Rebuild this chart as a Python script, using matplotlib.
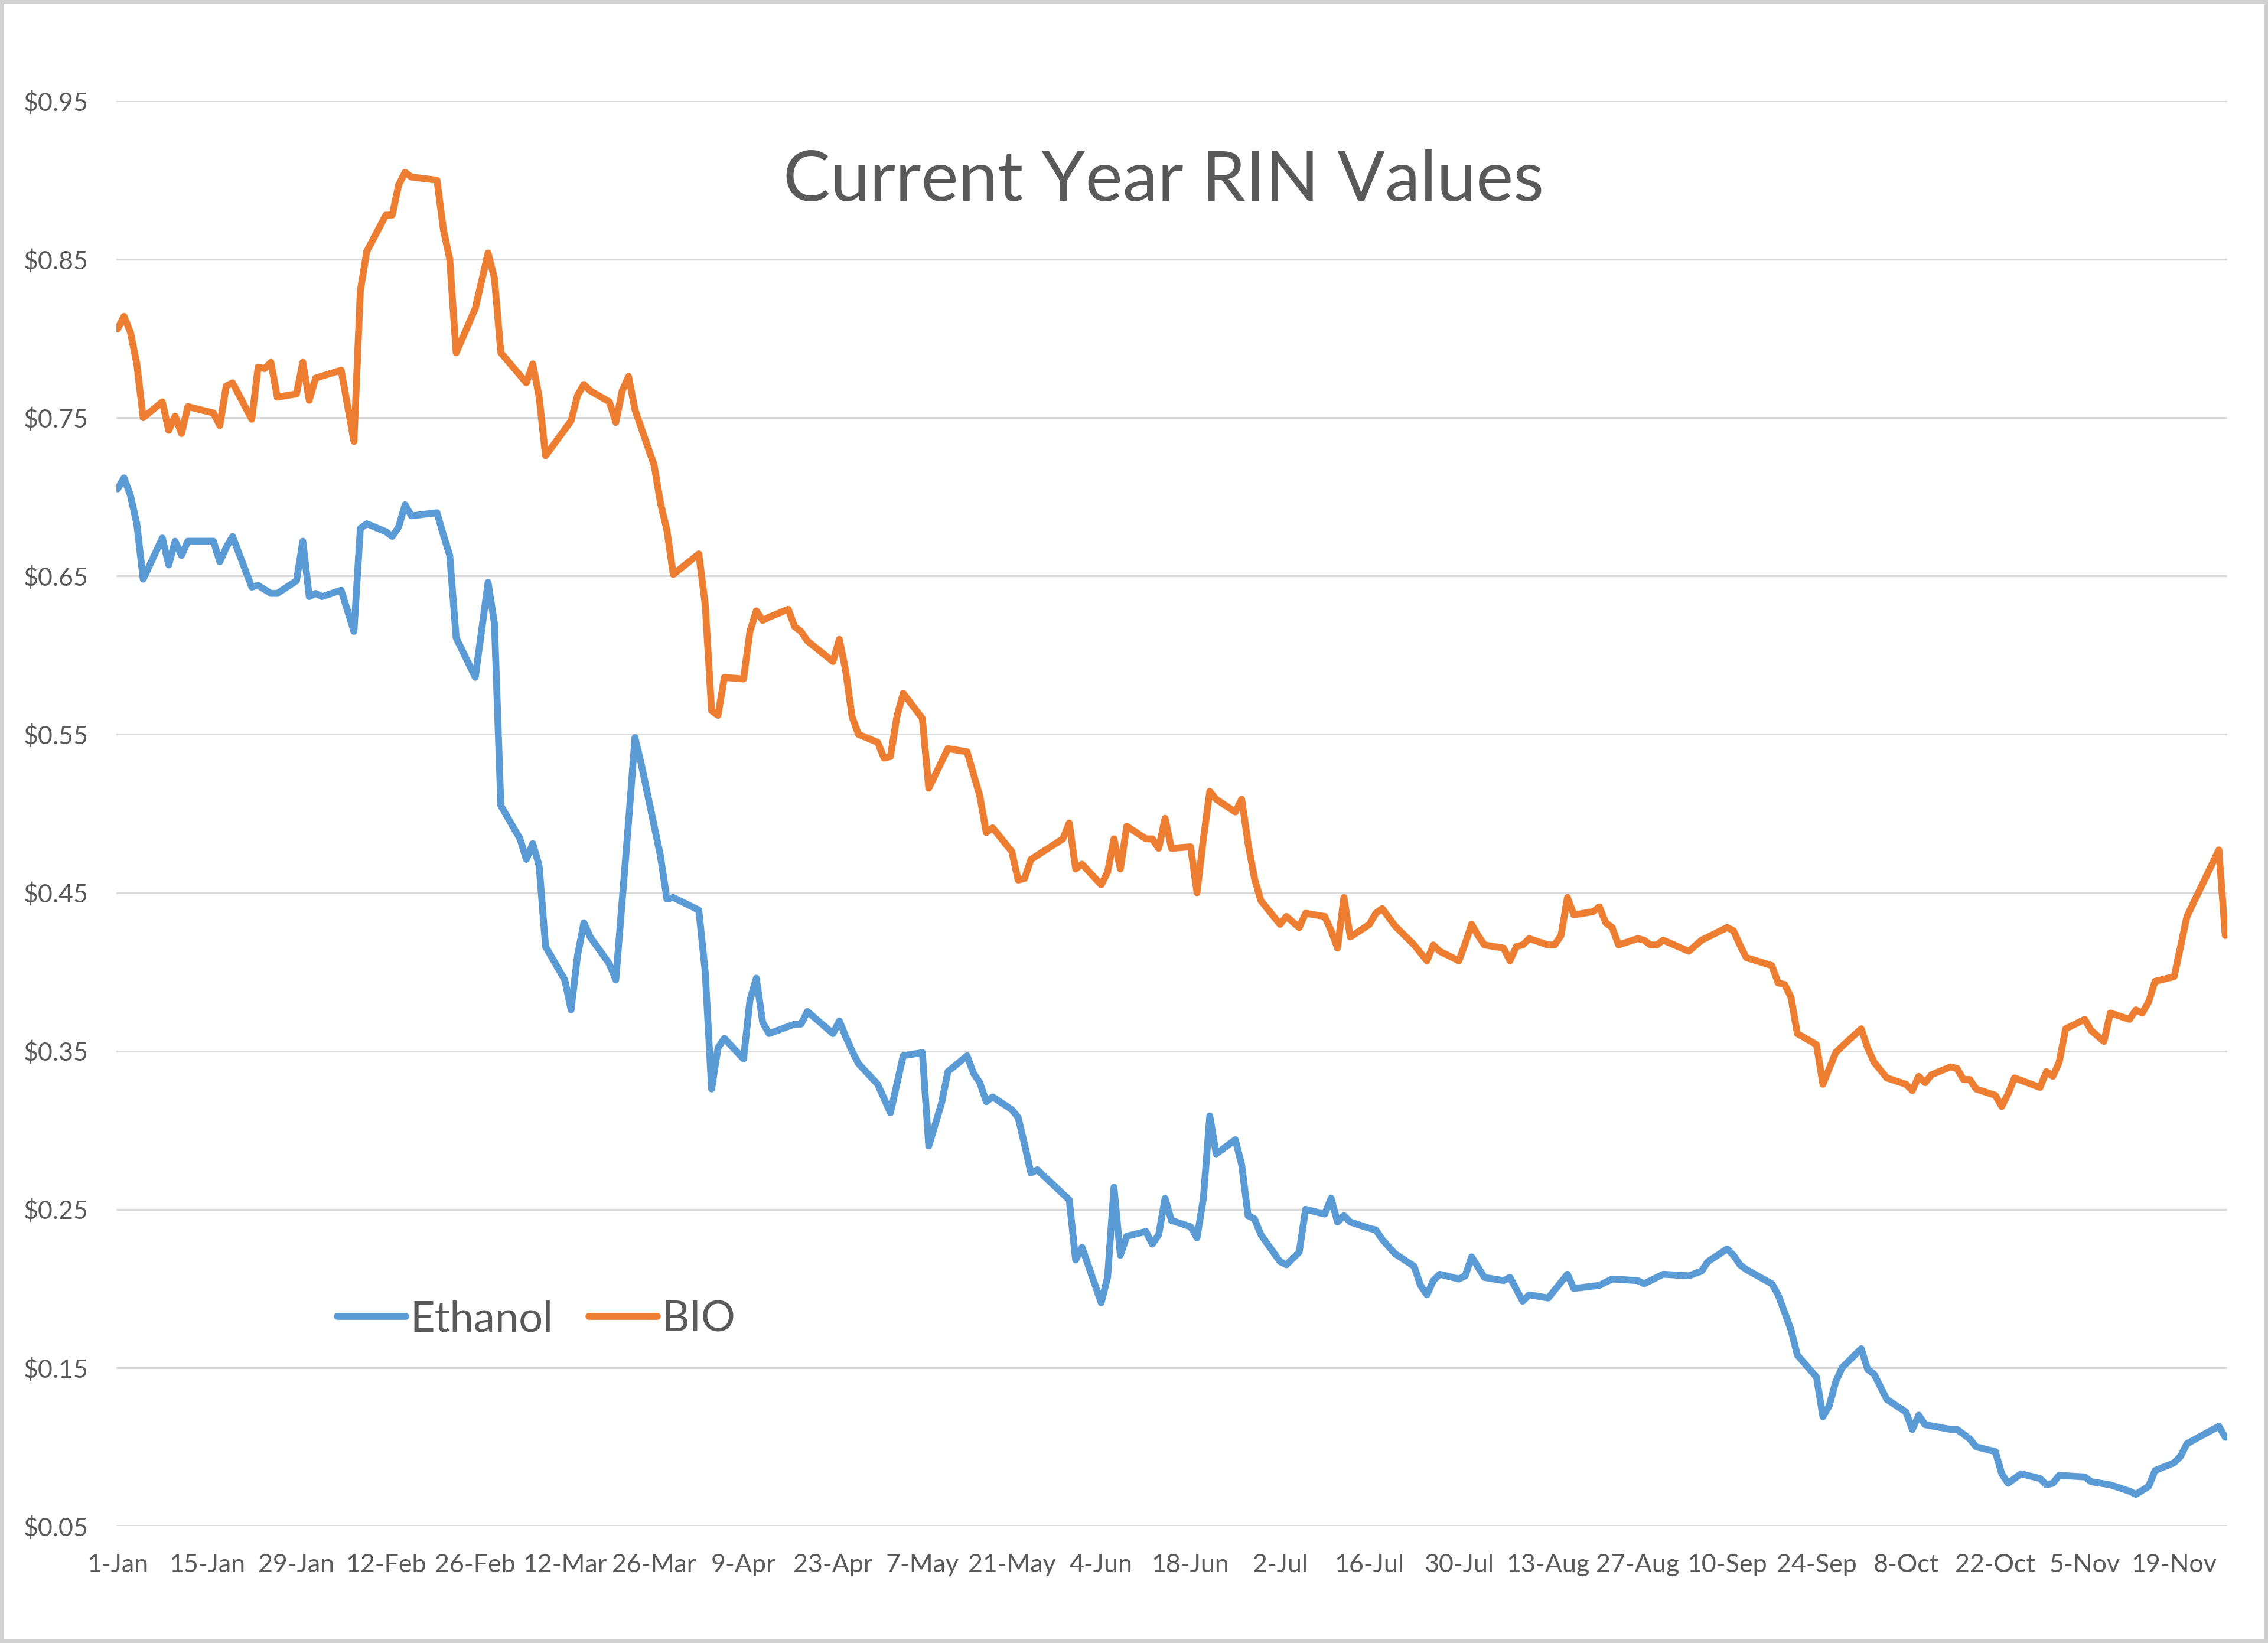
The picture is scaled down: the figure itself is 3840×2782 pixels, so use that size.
import matplotlib
matplotlib.use("Agg")
import matplotlib.pyplot as plt
import matplotlib.dates as mdates
from matplotlib.patches import Rectangle
import numpy as np
import datetime as dt

# ---------------- data (days after 1-Jan-2018, value in $) ----------------
base_date = "2018-01-01"

ethanol_days = [0, 1, 2, 3, 4, 7, 8, 9, 10, 11, 15, 16, 17, 18, 21, 22, 24, 25, 28, 29,
                30, 31, 32, 35, 37, 38, 39, 42, 43, 44, 45, 46, 50, 51, 52, 53, 56, 58, 59, 60,
                63, 64, 65, 66, 67, 70, 71, 72, 73, 74, 77, 78, 80, 81, 82, 85, 86, 87, 91, 92,
                93, 94, 95, 98, 99, 100, 101, 102, 106, 107, 108, 112, 113, 114, 115, 116, 119, 121, 123, 126,
                127, 129, 130, 133, 134, 135, 136, 137, 140, 141, 142, 143, 144, 149, 150, 151, 154, 155, 156, 157,
                158, 161, 162, 163, 164, 165, 168, 169, 170, 171, 172, 175, 176, 177, 178, 179, 182, 183, 185, 186,
                189, 190, 191, 192, 193, 196, 197, 198, 200, 203, 204, 205, 206, 207, 210, 211, 212, 214, 217, 218,
                220, 221, 224, 225, 227, 228, 232, 234, 238, 239, 242, 246, 248, 249, 252, 253, 254, 255, 259, 260,
                262, 263, 266, 267, 268, 269, 270, 273, 274, 275, 277, 280, 281, 282, 283, 287, 288, 290, 291, 294,
                295, 296, 298, 301, 302, 303, 304, 308, 309, 312, 315, 316, 318, 319, 322, 323, 324, 329, 330]
ethanol_vals = [0.705, 0.712, 0.701, 0.683, 0.648, 0.674, 0.657, 0.672, 0.663, 0.672, 0.672, 0.659, 0.668, 0.675, 0.643, 0.644, 0.639, 0.639, 0.647, 0.672,
                0.637, 0.639, 0.637, 0.641, 0.615, 0.680, 0.683, 0.678, 0.675, 0.681, 0.695, 0.688, 0.690, 0.676, 0.663, 0.611, 0.586, 0.646, 0.620, 0.505,
                0.484, 0.471, 0.481, 0.467, 0.416, 0.395, 0.376, 0.410, 0.431, 0.422, 0.405, 0.395, 0.495, 0.548, 0.531, 0.473, 0.446, 0.447, 0.439, 0.400,
                0.326, 0.352, 0.358, 0.345, 0.382, 0.396, 0.368, 0.361, 0.367, 0.367, 0.375, 0.361, 0.369, 0.359, 0.350, 0.342, 0.329, 0.311, 0.347, 0.349,
                0.290, 0.317, 0.337, 0.347, 0.336, 0.330, 0.318, 0.321, 0.313, 0.308, 0.291, 0.273, 0.275, 0.256, 0.218, 0.226, 0.191, 0.207, 0.264, 0.221,
                0.233, 0.236, 0.228, 0.234, 0.257, 0.243, 0.239, 0.232, 0.257, 0.309, 0.285, 0.294, 0.278, 0.246, 0.244, 0.234, 0.217, 0.215, 0.223, 0.250,
                0.247, 0.257, 0.242, 0.246, 0.242, 0.238, 0.237, 0.231, 0.222, 0.214, 0.202, 0.196, 0.205, 0.209, 0.206, 0.208, 0.220, 0.207, 0.205, 0.207,
                0.192, 0.196, 0.194, 0.199, 0.209, 0.200, 0.202, 0.206, 0.205, 0.203, 0.209, 0.208, 0.211, 0.217, 0.225, 0.221, 0.215, 0.212, 0.203, 0.196,
                0.174, 0.158, 0.144, 0.119, 0.126, 0.141, 0.150, 0.162, 0.149, 0.146, 0.130, 0.122, 0.111, 0.120, 0.114, 0.111, 0.111, 0.105, 0.100, 0.097,
                0.083, 0.077, 0.083, 0.080, 0.076, 0.077, 0.082, 0.081, 0.078, 0.076, 0.072, 0.070, 0.075, 0.085, 0.090, 0.094, 0.102, 0.113, 0.106]

bio_days = [0, 1, 2, 3, 4, 7, 8, 9, 10, 11, 15, 16, 17, 18, 21, 22, 23, 24, 25, 28,
            29, 30, 31, 35, 37, 38, 39, 42, 43, 44, 45, 46, 50, 51, 52, 53, 56, 58, 59, 60,
            64, 65, 66, 67, 71, 72, 73, 74, 77, 78, 79, 80, 81, 84, 85, 86, 87, 91, 92, 93,
            94, 95, 98, 99, 100, 101, 102, 105, 106, 107, 108, 112, 113, 114, 115, 116, 119, 120, 121, 122,
            123, 126, 127, 130, 133, 135, 136, 137, 140, 141, 142, 143, 148, 149, 150, 151, 154, 155, 156, 157,
            158, 161, 162, 163, 164, 165, 168, 169, 170, 171, 172, 175, 176, 177, 178, 179, 182, 183, 185, 186,
            189, 190, 191, 192, 193, 196, 197, 198, 200, 203, 205, 206, 207, 210, 211, 212, 213, 214, 217, 218,
            219, 220, 221, 224, 225, 226, 227, 228, 231, 232, 233, 234, 235, 238, 239, 240, 241, 242, 246, 248,
            252, 253, 254, 255, 259, 260, 261, 262, 263, 266, 267, 269, 270, 273, 274, 275, 277, 280, 281, 282,
            283, 284, 287, 288, 289, 290, 291, 294, 295, 296, 297, 301, 302, 303, 304, 305, 308, 309, 311, 312,
            315, 316, 317, 318, 319, 322, 324, 329, 330]
bio_vals = [0.806, 0.814, 0.804, 0.784, 0.750, 0.760, 0.742, 0.751, 0.740, 0.757, 0.753, 0.745, 0.770, 0.772, 0.749, 0.782, 0.781, 0.785, 0.763, 0.765,
            0.785, 0.761, 0.775, 0.780, 0.735, 0.830, 0.855, 0.878, 0.878, 0.897, 0.905, 0.902, 0.900, 0.869, 0.850, 0.791, 0.819, 0.854, 0.838, 0.791,
            0.772, 0.784, 0.763, 0.726, 0.748, 0.764, 0.771, 0.767, 0.760, 0.747, 0.767, 0.776, 0.755, 0.720, 0.696, 0.679, 0.651, 0.664, 0.632, 0.565,
            0.562, 0.586, 0.585, 0.615, 0.628, 0.622, 0.624, 0.629, 0.618, 0.615, 0.609, 0.596, 0.610, 0.590, 0.561, 0.550, 0.545, 0.535, 0.536, 0.561,
            0.576, 0.560, 0.516, 0.541, 0.539, 0.511, 0.488, 0.491, 0.476, 0.458, 0.459, 0.471, 0.484, 0.494, 0.465, 0.468, 0.455, 0.463, 0.484, 0.465,
            0.492, 0.484, 0.484, 0.478, 0.497, 0.478, 0.479, 0.450, 0.484, 0.514, 0.509, 0.501, 0.509, 0.481, 0.459, 0.445, 0.430, 0.435, 0.428, 0.437,
            0.435, 0.426, 0.415, 0.447, 0.422, 0.430, 0.437, 0.440, 0.429, 0.417, 0.407, 0.417, 0.413, 0.407, 0.418, 0.430, 0.423, 0.417, 0.415, 0.407,
            0.416, 0.417, 0.421, 0.417, 0.417, 0.423, 0.447, 0.436, 0.438, 0.441, 0.431, 0.428, 0.417, 0.421, 0.420, 0.417, 0.417, 0.420, 0.413, 0.420,
            0.428, 0.426, 0.417, 0.409, 0.404, 0.393, 0.392, 0.384, 0.361, 0.354, 0.329, 0.349, 0.353, 0.364, 0.352, 0.343, 0.333, 0.329, 0.325, 0.334,
            0.330, 0.335, 0.340, 0.339, 0.332, 0.332, 0.326, 0.322, 0.315, 0.323, 0.333, 0.327, 0.337, 0.334, 0.343, 0.364, 0.370, 0.363, 0.356, 0.374,
            0.370, 0.376, 0.374, 0.381, 0.394, 0.397, 0.435, 0.477, 0.423]

series_names = ["Ethanol", "BIO"]
title_text = "Current Year RIN Values"
y_ticks = [0.05, 0.15, 0.25, 0.35, 0.45, 0.55, 0.65, 0.75, 0.85, 0.95]
x_tick_days = [0, 14, 28, 42, 56, 70, 84, 98, 112, 126, 140, 154, 168, 182, 196, 210, 224, 238, 252, 266, 280, 294, 308, 322]

# ---------------- figure ----------------
plt.rcParams['font.family'] = ['Lato', 'DejaVu Sans']
DPI = 200
fig = plt.figure(figsize=(3840 / DPI, 2782 / DPI), dpi=DPI)
fig.patch.set_facecolor("white")
ax = fig.add_axes([0.0513, 0.0712, 0.9307, 0.8673])

b0 = np.datetime64(base_date)
eth_dates = b0 + np.array(ethanol_days, dtype="timedelta64[D]")
bio_dates = b0 + np.array(bio_days, dtype="timedelta64[D]")

blue = "#5B9BD5"
orange = "#ED7D31"
ax.plot(eth_dates, ethanol_vals, color=blue, lw=4.2, solid_joinstyle="round",
        solid_capstyle="round", label=series_names[0], zorder=3)
ax.plot(bio_dates, bio_vals, color=orange, lw=4.2, solid_joinstyle="round",
        solid_capstyle="round", label=series_names[1], zorder=3)

ax.set_ylim(0.05, 0.95)
ax.set_yticks(y_ticks)
ax.set_yticklabels([f"${v:.2f}" for v in y_ticks])
ax.set_xlim(mdates.date2num(b0) - 0.2, mdates.date2num(b0) + 330.3)
tick_dates = b0 + np.array(x_tick_days, dtype="timedelta64[D]")
ax.set_xticks(tick_dates)
labels = []
for d in tick_dates:
    pd_ = d.astype(dt.date)
    labels.append(f"{pd_.day}-{pd_.strftime('%b')}")
ax.set_xticklabels(labels)

ax.grid(axis="y", color="#D9D9D9", lw=1.1, zorder=0)
ax.grid(axis="x", visible=False)
for s in ax.spines.values():
    s.set_visible(False)
ax.tick_params(axis="both", length=0, colors="#595959", labelsize=15.5)
ax.tick_params(axis="y", pad=17)
ax.tick_params(axis="x", pad=17)

leg = ax.legend(loc="center", bbox_to_anchor=(0.199, 0.145), ncol=2, frameon=False,
                fontsize=26, handlelength=1.6, handletextpad=0.1, columnspacing=0.85)
for t in leg.get_texts():
    t.set_color("#595959")

fig.text(0.513, 0.890, title_text, ha="center", va="center", fontsize=43, color="#595959")

fig.patches.append(Rectangle((0.0008, 0.001), 0.9984, 0.998, transform=fig.transFigure,
                             fill=False, edgecolor="#D0D0D0", lw=2.5))

fig.savefig("out.png", dpi=DPI, facecolor="white")
